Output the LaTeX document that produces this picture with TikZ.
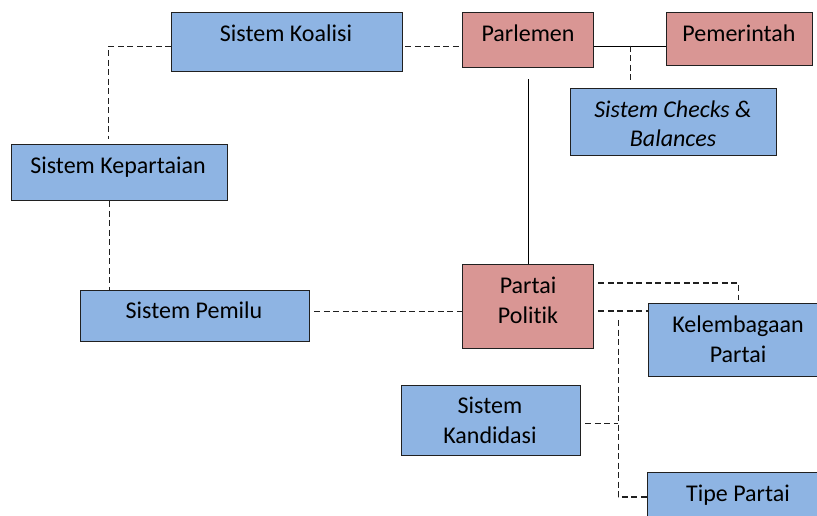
\documentclass[tikz,border=0pt]{standalone}
\usepackage{fontspec}
\setmainfont{Carlito}[RawFeature={-liga;-clig;-calt;-dlig}]
\usetikzlibrary{calc}
\definecolor{boxblue}{HTML}{8EB4E3}
\definecolor{boxred}{HTML}{D99694}
\definecolor{edge}{HTML}{202020}
\begin{document}
\begin{tikzpicture}[x=1pt,y=-1pt,
  box/.style={draw=edge, line width=1.3pt, inner sep=0pt, anchor=north west},
  bluebox/.style={box, fill=boxblue},
  redbox/.style={box, fill=boxred},
  txt/.style={font=\fontsize{24}{29}\selectfont, anchor=base, inner sep=0pt},
  dl/.style={draw=edge, line width=1.3pt, dash pattern=on 6pt off 3.5pt},
  sl/.style={draw=black, line width=1pt}]
\useasboundingbox (0,0) rectangle (817,515);
\clip (0,0) rectangle (817,515);
% boxes
\node[bluebox, minimum width=231pt, minimum height=59pt] (koal) at (171,12) {};
\node[redbox, minimum width=131pt, minimum height=55pt] (parl) at (462,12) {};
\node[redbox, minimum width=146pt, minimum height=53pt] (pem) at (666,12) {};
\node[bluebox, minimum width=206pt, minimum height=67pt] (cb) at (570,88) {};
\node[bluebox, minimum width=216pt, minimum height=56pt] (kep) at (11,144) {};
\node[bluebox, minimum width=229pt, minimum height=51pt] (pml) at (80,290) {};
\node[redbox, minimum width=131pt, minimum height=84pt] (pp) at (462,264) {};
\node[bluebox, minimum width=180pt, minimum height=73pt] (kel) at (648,303) {};
\node[bluebox, minimum width=179pt, minimum height=70pt] (kand) at (401,385) {};
\node[bluebox, minimum width=182pt, minimum height=60pt] (tipe) at (647,472) {};
% texts
\node[txt] (tkoal) at (286,41) {Sistem Koalisi};
\node[txt] (tparl) at (528,41) {Parlemen};
\node[txt] (tpem) at (739,41) {Pemerintah};
\node[txt] (tcb1) at (673,117) {\itshape Sistem Checks \&};
\node[txt] (tcb2) at (673,146) {\itshape Balances};
\node[txt] (tkep) at (118,173) {Sistem Kepartaian};
\node[txt] (tpml) at (194,318) {Sistem Pemilu};
\node[txt] (tpp1) at (528,293) {Partai};
\node[txt] (tpp2) at (528,323) {Poli\kern0ptti\kern0ptk};
\node[txt] (tkel1) at (738,332) {Kelembagaan};
\node[txt] (tkel2) at (738,362) {Partai};
\node[txt] (tkand1) at (490,413) {Sistem};
\node[txt] (tkand2) at (490,443) {Kandidasi};
\node[txt] (ttipe) at (738,501) {Tipe Partai};
% connectors
\coordinate (k0) at ($(kep.north)+(-11,-5)$);
\draw[dl] ([yshift=-4pt]koal.west) -| (k0);
\coordinate (a1) at ($(koal.east)+(2,4)$);
\draw[dl] (a1) -- (a1 -| parl.west);
\coordinate (b1) at ($(parl.east)+(0,6)$);
\draw[sl] (b1) -- (b1 -| pem.west);
\coordinate (j1) at ($(cb.north)+(-43,-42.5)$);
\coordinate (j2) at ($(cb.north)+(-43,-6)$);
\draw[dl] (j1) -- (j2);
\draw[sl] ([yshift=-11pt]parl.south) -- (pp.north);
\coordinate (k1) at ($(kep.south)+(-10,0)$);
\draw[dl] (k1) -- (k1 |- pml.north);
\coordinate (p1) at ($(pml.east)+(4,-4.5)$);
\draw[dl] (p1) -- (p1 -| pp.west);
\coordinate (q1) at ($(pp.north east)+(4,19)$);
\draw[dl] (q1) -| ($(kel.north)+(0,-3)$);
\coordinate (q2) at ($(pp.north east)+(4,47)$);
\draw[dl] (q2) -- (q2 -| kel.west);
\coordinate (q3) at ($(pp.north east)+(24,56)$);
\coordinate (q4) at ($(tipe.north west)+(0,25)$);
\draw[dl] (q3) |- (q4);
\coordinate (q5) at ($(kand.east)+(4,3)$);
\draw[dl] (q5) -- (q5 -| q3);
\end{tikzpicture}
\end{document}
